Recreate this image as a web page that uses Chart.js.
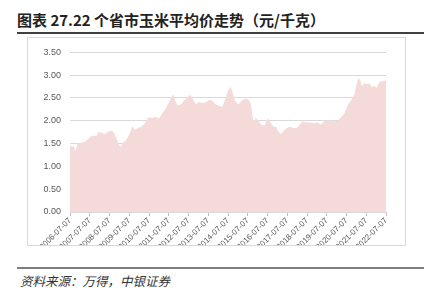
<!DOCTYPE html>
<html>
<head>
<meta charset="utf-8">
<script src="https://cdn.jsdelivr.net/npm/chart.js"></script>
<style>
  body { margin: 0; background: #fff; width: 435px; height: 301px; position: relative; overflow: hidden; }
  #title { position: absolute; left: 17px; top: 10px; font-family: "Noto Sans CJK SC", sans-serif; font-weight: bold; font-size: 15px; line-height: 20px; color: #222; white-space: nowrap; }
  #topline { position: absolute; left: 17px; top: 32px; width: 407px; height: 1.5px; background: #404040; }
  #frame { position: absolute; left: 27px; top: 37px; width: 377px; height: 207px; border: 1px solid #d9d9d9; }
  #myChart { position: absolute; left: 0; top: 0; }
  #botline { position: absolute; left: 17px; top: 267px; width: 407px; height: 1.5px; background: #7f7f7f; }
  #source { position: absolute; left: 20px; top: 273px; font-family: "Noto Sans CJK SC", sans-serif; font-style: italic; font-size: 12.5px; line-height: 16px; color: #333; white-space: nowrap; }
</style>
</head>
<body>
<div id="title">图表 27.22 个省市玉米平均价走势（元/千克）</div>
<div id="topline"></div>
<div id="frame"><canvas id="myChart" width="377" height="207"></canvas></div>
<div id="botline"></div>
<div id="source">资料来源：万得，中银证券</div>
<script>
// meses desde 2006-07 (eje x)
var meses = [0, 1, 2.4, 3, 3.5, 4.5, 6, 8, 10, 11.4, 12.8, 14.5, 16, 16.8, 17.2, 18, 19.4, 21, 23, 25,
  26.7, 28.2, 29.6, 30.8, 32.2, 34.2, 36.3, 37.9, 39.3, 41.3, 43.4, 45.4, 47, 48, 50, 52, 54, 56, 58, 60,
  62.2, 62.8, 64.2, 65.6, 67.3, 69.3, 71.3, 73.3, 74.5, 76.4, 78.4, 80.4, 82.4, 84.5, 86.5, 88.5, 90.5, 92.6, 94, 95.6,
  97.6, 98.8, 100.2, 102.3, 104.3, 106.3, 108.4, 109.8, 111.4, 113, 114.4, 116.4, 118.5, 119.9, 121.5, 123.6, 125.2, 126.6, 128.2, 130,
  131.7, 133.7, 135.7, 137.7, 139.4, 141.4, 143.4, 145.8, 148.5, 150.5, 152.5, 154.5, 156.5, 158.6, 160.6, 162.6, 164.6, 166.7, 168.7, 170.7,
  172.8, 173.8, 175.2, 176.4, 177.4, 178.9, 180.4, 181.9, 183.3, 184.9, 186.5, 187.9, 189.9, 192]
// precio promedio (元/千克)
var precios = [1.45, 1.45, 1.43, 1.38, 1.33, 1.50, 1.51, 1.53, 1.56, 1.62, 1.66, 1.67, 1.67, 1.70, 1.77, 1.74, 1.75, 1.70, 1.76, 1.79,
  1.75, 1.62, 1.48, 1.43, 1.52, 1.58, 1.72, 1.88, 1.80, 1.85, 1.87, 1.94, 2.05, 2.08, 2.06, 2.09, 2.05, 2.16, 2.26, 2.40,
  2.55, 2.58, 2.42, 2.33, 2.36, 2.44, 2.52, 2.57, 2.48, 2.37, 2.41, 2.39, 2.40, 2.46, 2.44, 2.36, 2.33, 2.31, 2.45, 2.62,
  2.76, 2.62, 2.44, 2.36, 2.44, 2.49, 2.47, 2.38, 1.98, 2.06, 2.01, 1.91, 1.91, 2.06, 1.98, 1.87, 1.87, 1.76, 1.71, 1.78,
  1.84, 1.87, 1.84, 1.84, 1.91, 1.99, 1.96, 1.96, 1.95, 1.96, 1.92, 1.99, 2.02, 2.00, 1.99, 2.00, 2.08, 2.16, 2.34, 2.44,
  2.58, 2.76, 2.94, 2.89, 2.76, 2.83, 2.80, 2.82, 2.75, 2.76, 2.73, 2.85, 2.87, 2.89]
var anioInicio = 2006
var etiquetaSufijo = '-07-07'

var puntos = meses.map(function (m, i) { return { x: m, y: precios[i] } })

const data = {
  datasets: [{
    label: '玉米平均价',
    data: puntos,
    fill: 'origin',
    backgroundColor: '#f5dada',
    borderWidth: 0,
    pointRadius: 0,
    tension: 0
  }]
}

const opciones = {
  responsive: false,
  animation: false,
  layout: { padding: { top: 11, right: 19, left: 0, bottom: 0 } },
  plugins: { legend: { display: false }, tooltip: { enabled: false } },
  scales: {
    x: {
      type: 'linear',
      min: 0,
      max: 192,
      grid: { drawOnChartArea: false, drawTicks: true, tickLength: 4, color: '#bfbfbf' },
      border: { color: '#d9d9d9' },
      ticks: {
        stepSize: 12,
        autoSkip: false,
        maxRotation: 45,
        minRotation: 45,
        padding: 0,
        color: '#595959',
        font: { family: 'Liberation Sans', size: 8 },
        callback: function (v) { return (anioInicio + v / 12) + etiquetaSufijo }
      },
      afterFit: function (s) { s.height = 33 }
    },
    y: {
      min: 0,
      max: 3.5,
      grid: { color: '#d9d9d9', drawTicks: false },
      border: { display: false },
      ticks: {
        stepSize: 0.5,
        padding: 9,
        color: '#595959',
        font: { family: 'Liberation Sans', size: 9 },
        callback: function (v) { return v.toFixed(2) }
      },
      afterFit: function (s) { s.width = 42 }
    }
  }
}

var ctx = document.getElementById('myChart')
var chart = new Chart(ctx, { type: 'line', data: data, options: opciones })
</script>
</body>
</html>
